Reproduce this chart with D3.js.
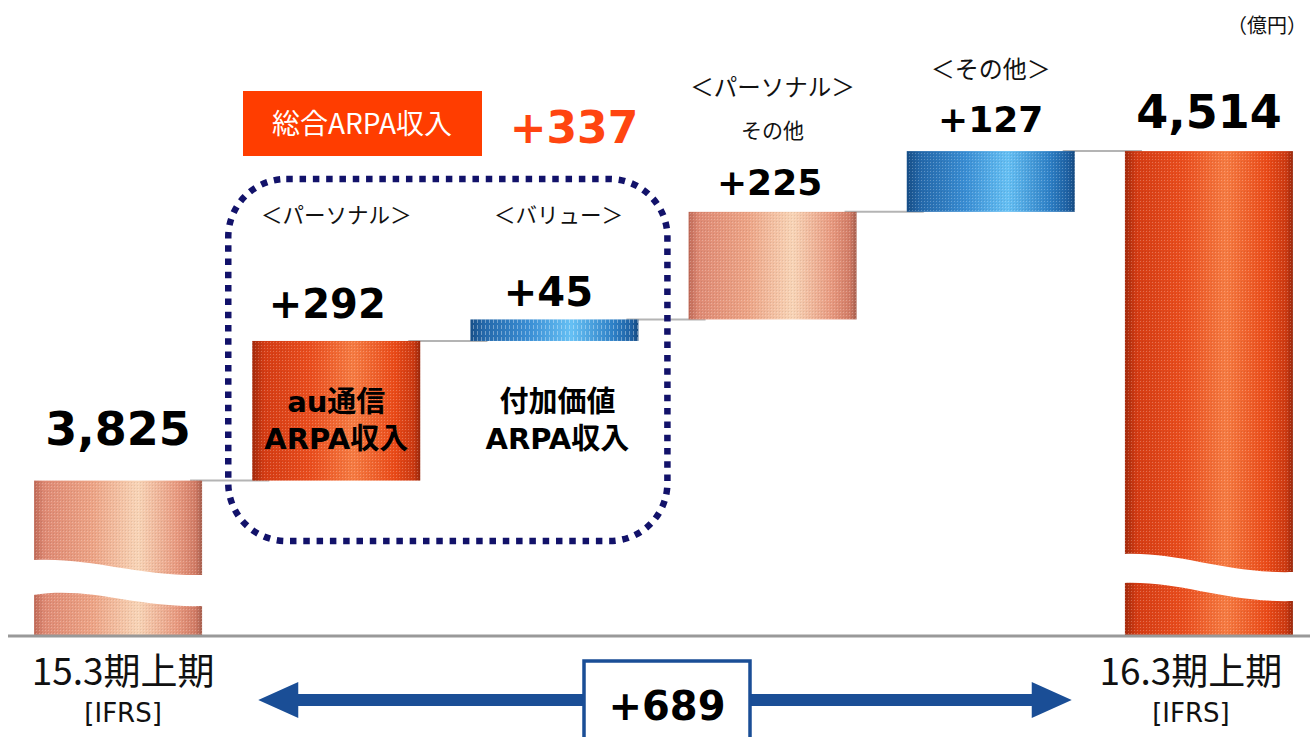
<!doctype html>
<html>
<head>
<meta charset="utf-8">
<script src="https://cdn.jsdelivr.net/npm/d3@7/dist/d3.min.js"></script>
<style>
  body { margin: 0; background: #fff; }
  svg text { font-family: "Noto Sans CJK JP", sans-serif; }
  .num { font-family: "DejaVu Sans", "Noto Sans CJK JP", sans-serif; font-weight: bold; }
</style>
</head>
<body>
<svg id="chart"></svg>
<script>
// data
var categories = ["15.3期上期", "au通信", "付加価値", "パーソナルその他", "その他", "16.3期上期"];
var values = [3825, 292, 45, 225, 127, 4514];
var kinds = ["total", "delta", "delta", "delta", "delta", "total"];
var valueLabels = ["3,825", "+292", "+45", "+225", "+127", "4,514"];
var headLines = [[], ["＜パーソナル＞"], ["＜バリュー＞"], ["＜パーソナル＞", "その他"], ["＜その他＞"], []];
var innerLines = [[], ["au通信", "ARPA収入"], ["付加価値", "ARPA収入"], [], [], []];
var axisLabels = ["15.3期上期", "16.3期上期"];
var axisSubLabels = ["[IFRS]", "[IFRS]"];
var groupTitle = "総合ARPA収入";
var groupTotal = "+337";
var totalDiff = "+689";
var unitLabel = "（億円）";

var width = 1310, height = 737;
var baseY = 636;
var svg = d3.select("#chart").attr("width", width).attr("height", height);

var x = d3.scaleBand().domain(categories).range([9, 1318]).paddingInner(0.23).paddingOuter(0.115);
var y = d3.scaleLinear().domain([3500, 4830]).range([baseY, 0]);
var bw = x.bandwidth();

// waterfall start/end
var run = 0;
var bars = categories.map(function(c, i) {
  var s, e;
  if (kinds[i] === "total") { s = y.domain()[0]; e = values[i]; run = values[i]; }
  else { s = run; e = run + values[i]; run = e; }
  return { cat: c, i: i, start: s, end: e };
});

var defs = svg.append("defs");
function grad(id, stops) {
  var g = defs.append("linearGradient").attr("id", id).attr("x1", "0").attr("x2", "1").attr("y1", "0").attr("y2", "0");
  stops.forEach(function(s) { g.append("stop").attr("offset", s[0]).attr("stop-color", s[1]); });
}
grad("gSalmon", [[0, "#c06a58"], [0.06, "#df8a74"], [0.35, "#eda486"], [0.62, "#f8d4b6"], [0.85, "#e89a80"], [0.96, "#d27c66"], [1, "#a8604f"]]);
grad("gRed", [[0, "#a42a0c"], [0.07, "#d53c14"], [0.35, "#ea4e1e"], [0.6, "#f67b42"], [0.85, "#ea4a18"], [0.96, "#cc3a12"], [1, "#9a280c"]]);
grad("gBlue", [[0, "#174f88"], [0.08, "#2468aa"], [0.35, "#3a8ed4"], [0.6, "#66c0f4"], [0.85, "#2e80c6"], [0.96, "#1e60a2"], [1, "#164a80"]]);

var pat = defs.append("pattern").attr("id", "dots").attr("width", 3).attr("height", 3).attr("patternUnits", "userSpaceOnUse");
pat.append("rect").attr("width", 1).attr("height", 1).attr("fill", "#fff").attr("opacity", 0.25);
pat.append("rect").attr("x", 2).attr("y", 2).attr("width", 1).attr("height", 1).attr("fill", "#000").attr("opacity", 0.08);
var vpat = defs.append("pattern").attr("id", "vstripes").attr("width", 4).attr("height", 6).attr("patternUnits", "userSpaceOnUse");
vpat.append("rect").attr("x", 1).attr("y", 1).attr("width", 1).attr("height", 4).attr("fill", "#fff").attr("opacity", 0.35);

var fills = ["gSalmon", "gRed", "gBlue", "gSalmon", "gBlue", "gRed"];

// connectors
for (var i = 0; i < bars.length - 1; i++) {
  var yy = y(bars[i].end);
  svg.append("line")
    .attr("x1", x(categories[i]) + bw - 12).attr("x2", x(categories[i + 1]) + 17)
    .attr("y1", yy).attr("y2", yy)
    .attr("stroke", "#b4b4b4").attr("stroke-width", 2);
}

// bars
var g = svg.selectAll("g.bar").data(bars).enter().append("g").attr("class", "bar");
g.append("rect")
  .attr("x", function(d) { return x(d.cat); })
  .attr("y", function(d) { return y(d.end); })
  .attr("width", bw)
  .attr("height", function(d) { return y(d.start) - y(d.end); })
  .attr("fill", function(d, i) { return "url(#" + fills[i] + ")"; });
g.append("rect")
  .attr("x", function(d) { return x(d.cat); })
  .attr("y", function(d) { return y(d.end); })
  .attr("width", bw)
  .attr("height", function(d) { return y(d.start) - y(d.end); })
  .attr("fill", function(d, i) { return i === 2 ? "url(#vstripes)" : "url(#dots)"; });

// axis break waves on total bars
var waves = {
  0: { up: [560, 557, 576, 575], lo: [595, 586, 608, 606] },
  5: { up: [554, 552, 574, 572], lo: [583, 581, 603, 601] }
};
Object.keys(waves).forEach(function(k) {
  var w = waves[k], x0 = x(categories[+k]) - 1, x1 = x0 + bw + 2;
  var p = d3.path();
  p.moveTo(x0, w.up[0]);
  p.bezierCurveTo(x0 + bw * 0.35, w.up[1], x0 + bw * 0.6, w.up[2], x1, w.up[3]);
  p.lineTo(x1, w.lo[3]);
  p.bezierCurveTo(x0 + bw * 0.6, w.lo[2], x0 + bw * 0.35, w.lo[1], x0, w.lo[0]);
  p.closePath();
  svg.append("path").attr("d", p.toString()).attr("fill", "#fff");
});

// baseline
svg.append("line").attr("x1", 8).attr("x2", width).attr("y1", baseY).attr("y2", baseY)
  .attr("stroke", "#999").attr("stroke-width", 3);

// value labels
var labelDy = [-36, -23, -13, -17, -19, -23];
var labelDx = [0, -9, -6, -3, 0, 0];
var labelSize = [46, 40, 40, 36, 36, 46];
g.append("text").attr("class", "num")
  .attr("x", function(d) { return x(d.cat) + bw / 2 + labelDx[d.i]; })
  .attr("y", function(d) { return y(d.end) + labelDy[d.i]; })
  .attr("text-anchor", "middle")
  .style("font-size", function(d) { return labelSize[d.i] + "px"; })
  .attr("fill", "#000")
  .text(function(d) { return valueLabels[d.i]; });

// header lines
var headY = [[], [223], [223], [96, 138], [78], []];
var headSize = [[], [21.5], [21.5], [23.5, 21], [24], []];
bars.forEach(function(d) {
  headLines[d.i].forEach(function(t, j) {
    svg.append("text").attr("x", x(d.cat) + bw / 2 + (d.i === 2 ? 4 : 0)).attr("y", headY[d.i][j])
      .attr("text-anchor", "middle").style("font-size", headSize[d.i][j] + "px").attr("fill", "#111").text(t);
  });
  innerLines[d.i].forEach(function(t, j) {
    svg.append("text").attr("x", x(d.cat) + bw / 2 + (d.i === 2 ? 3 : 0)).attr("y", 412 + j * 37)
      .attr("text-anchor", "middle")
      .style("font-family", "'DejaVu Sans', 'Noto Sans CJK JP', sans-serif")
      .style("font-size", "29px").style("font-weight", "bold").attr("fill", "#000").text(t);
  });
});

// group box (dotted rounded rect around ARPA bars)
var gx0 = x(categories[1]) - 24, gx1 = x(categories[2]) + bw + 29;
svg.append("rect").attr("x", gx0).attr("y", 179).attr("width", gx1 - gx0).attr("height", 362)
  .attr("rx", 58).attr("ry", 58).attr("fill", "none")
  .attr("stroke", "#12126a").attr("stroke-width", 6.5).attr("stroke-dasharray", "6.5 6.8");

// group title
svg.append("rect").attr("x", 243).attr("y", 91).attr("width", 239).attr("height", 65).attr("fill", "#ff3d00");
svg.append("text").attr("x", 362).attr("y", 134).attr("text-anchor", "middle")
  .style("font-size", "28px").attr("fill", "#fff").text(groupTitle);
svg.append("text").attr("class", "num").attr("x", 574).attr("y", 143).attr("text-anchor", "middle")
  .style("font-size", "44px").attr("fill", "#ff4510").text(groupTotal);

// unit
svg.append("text").attr("x", width - 3).attr("y", 33).attr("text-anchor", "end")
  .style("font-size", "20px").attr("fill", "#111").text(unitLabel);

// axis labels under total bars
var axisDx = [5, -18];
[0, 5].forEach(function(ci, j) {
  var cx = x(categories[ci]) + bw / 2 + axisDx[j];
  svg.append("text").attr("x", cx).attr("y", 685).attr("text-anchor", "middle")
    .style("font-size", "37px").attr("fill", "#111").text(axisLabels[j]);
  svg.append("text").attr("x", cx).attr("y", 722).attr("text-anchor", "middle")
    .style("font-family", "'DejaVu Sans', sans-serif")
    .style("font-size", "26px").attr("fill", "#111").text(axisSubLabels[j]);
});

// double arrow
var ax0 = x(categories[1]) + 6, ax1 = x(categories[4]) + bw - 3, ay = 700;
var arrow = d3.path();
arrow.moveTo(ax0, ay);
arrow.lineTo(ax0 + 40, ay - 18); arrow.lineTo(ax0 + 40, ay - 6);
arrow.lineTo(ax1 - 40, ay - 6); arrow.lineTo(ax1 - 40, ay - 18);
arrow.lineTo(ax1, ay); arrow.lineTo(ax1 - 40, ay + 18);
arrow.lineTo(ax1 - 40, ay + 6); arrow.lineTo(ax0 + 40, ay + 6);
arrow.lineTo(ax0 + 40, ay + 18); arrow.closePath();
svg.append("path").attr("d", arrow.toString()).attr("fill", "#1a4e96");

var bx = (ax0 + ax1) / 2 + 2;
svg.append("rect").attr("x", bx - 83).attr("y", 661).attr("width", 166).attr("height", 90)
  .attr("fill", "#fff").attr("stroke", "#1a4e96").attr("stroke-width", 3.5);
svg.append("text").attr("class", "num").attr("x", bx).attr("y", 720).attr("text-anchor", "middle")
  .style("font-size", "40px").attr("fill", "#000").text(totalDiff);
</script>
</body>
</html>
